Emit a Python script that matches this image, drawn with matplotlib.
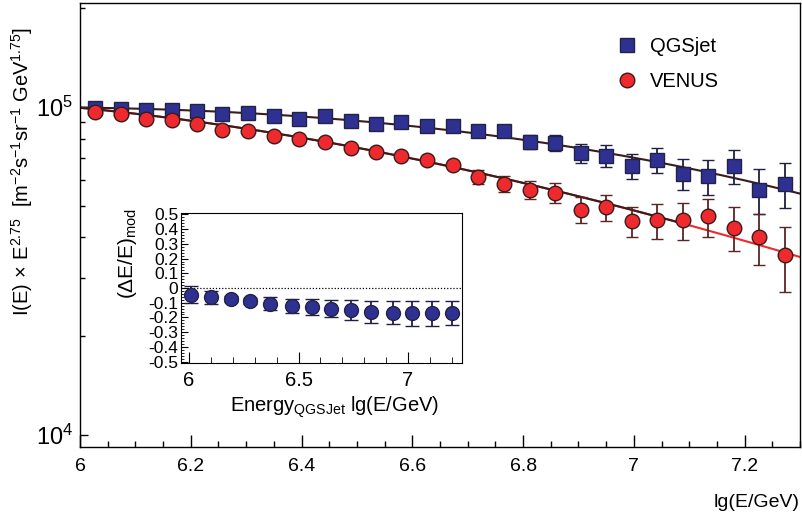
import numpy as np
import matplotlib
matplotlib.use("Agg")
import matplotlib.pyplot as plt
from matplotlib.lines import Line2D
from matplotlib.ticker import MultipleLocator, FixedLocator, FixedFormatter, NullFormatter, FuncFormatter

plt.rcParams["font.family"] = ["Liberation Sans", "DejaVu Sans"]
plt.rcParams["mathtext.fontset"] = "custom"
plt.rcParams["mathtext.rm"] = "Liberation Sans"
plt.rcParams["mathtext.it"] = "Liberation Sans:italic"
plt.rcParams["axes.unicode_minus"] = False

# main spectrum, lg(E/GeV)
lgE = [6.027, 6.074, 6.120, 6.166, 6.212, 6.257, 6.304, 6.351, 6.396, 6.442,
       6.489, 6.534, 6.579, 6.626, 6.674, 6.719, 6.765, 6.812, 6.857, 6.904,
       6.949, 6.996, 7.042, 7.088, 7.134, 7.181, 7.226, 7.273]

qgsjet = [99100, 98400, 97430, 97430, 97230, 95210, 95670, 93410, 91930, 93410,
          90200, 88750, 89820, 87090, 87520, 84070, 84480, 78080, 77530, 72270,
          70920, 66080, 68930, 62470, 61310, 65770, 55840, 58250]
qgsjet_err = [500, 550, 600, 650, 700, 800, 900, 1000, 1100, 1200,
              1400, 1600, 1800, 2000, 2300, 2700, 3200, 3800, 4300, 4800,
              5500, 5800, 6100, 6600, 7300, 7800, 8600, 9200]

venus = [96200, 95200, 91730, 91270, 88550, 85100, 84490, 81200, 79690, 77800,
         74800, 72700, 70900, 68930, 66540, 61050, 58250, 55840, 54550, 48530,
         49450, 44920, 45020, 45020, 46290, 42850, 39950, 35210]
venus_err = [500, 550, 600, 650, 700, 750, 800, 900, 1000, 1100,
             1200, 1300, 1500, 1700, 2000, 3000, 3300, 3500, 3800, 4400,
             4500, 4700, 5400, 5700, 6200, 6600, 7000, 7900]

# fit curves
fit_x = [6.0, 6.27, 6.55, 6.82, 7.03, 7.3]
fit_qgsjet = [99790, 95000, 90000, 78800, 67640, 54550]
fit_venus = [99650, 86100, 73080, 57850, 46290, 34970]

# inset: energy shift
inset_x = [6.01, 6.10, 6.19, 6.28, 6.37, 6.47, 6.56, 6.65, 6.74, 6.83, 6.93, 7.02, 7.11, 7.20]
inset_y = [-0.047, -0.062, -0.073, -0.091, -0.107, -0.122, -0.129, -0.140, -0.151, -0.162,
           -0.167, -0.173, -0.173, -0.169]
inset_err = [0.058, 0.044, 0.02, 0.02, 0.044, 0.048, 0.053, 0.06, 0.069, 0.075,
             0.08, 0.084, 0.084, 0.08]

blue = "#2e3192"
red = "#ee2a2e"
dark = "#3a1c1c"

fig = plt.figure(figsize=(8.03, 5.13), dpi=100)
ax = fig.add_axes([0.0996, 0.1287, 0.8967, 0.8655])

xs = np.linspace(6.0, 7.3, 300)
cq = np.polyfit(fit_x, np.log10(fit_qgsjet), 3)
cv = np.polyfit(fit_x, np.log10(fit_venus), 3)
ax.plot(xs, 10 ** np.polyval(cv, xs), color=red, lw=1.5, zorder=2)
xd = xs[xs <= 7.09]
ax.plot(xd, 10 ** np.polyval(cv, xd), color=dark, lw=1.5, zorder=2)
ax.plot(xs, 10 ** np.polyval(cq, xs), color=dark, lw=1.5, zorder=2)

ax.errorbar(lgE, qgsjet, yerr=qgsjet_err, fmt="s", color=blue, mec="#222244",
            mew=1.0, ms=10, ecolor="#1f1f45", elinewidth=1.3, capsize=4.3,
            capthick=1.3, zorder=3)
ax.errorbar(lgE, venus, yerr=venus_err, fmt="o", color=red, mec="#3a1a1a",
            mew=1.0, ms=10.5, ecolor="#5a2424", elinewidth=1.3, capsize=4.3,
            capthick=1.3, zorder=3)

ax.set_yscale("log")
ax.set_xlim(6.0, 7.3)
ax.set_ylim(9190, 2.07e5)
ax.set_xticks([6.0, 6.2, 6.4, 6.6, 6.8, 7.0, 7.2])
ax.set_xticklabels(["6", "6.2", "6.4", "6.6", "6.8", "7", "7.2"])
ax.xaxis.set_minor_locator(MultipleLocator(0.05))
ax.yaxis.set_major_locator(FixedLocator([1e4, 1e5]))
ax.yaxis.set_major_formatter(FixedFormatter([r"$10^{4}$", r"$10^{5}$"]))
ax.yaxis.set_minor_locator(FixedLocator([k * 1e4 for k in range(2, 10)] + [2e5]))
ax.yaxis.set_minor_formatter(NullFormatter())
ax.tick_params(axis="both", which="both", direction="in", top=False, right=False, width=1.0)
ax.tick_params(axis="x", which="major", length=8.5, pad=8, labelsize=14)
ax.tick_params(axis="x", which="minor", length=4.3)
ax.tick_params(axis="y", which="major", length=6, pad=5, labelsize=17)
ax.tick_params(axis="y", which="minor", length=3.5)
for s in ax.spines.values():
    s.set_linewidth(1.0)

ax.set_ylabel(r"I(E)$\,\times\,$E$^{2.75}$  [m$^{-2}$s$^{-1}$sr$^{-1}$ GeV$^{1.75}$]", fontsize=14.5)
ax.yaxis.set_label_coords(-0.062, 0.62)
ax.set_xlabel("lg(E/GeV)", fontsize=14, ha="right")
ax.xaxis.set_label_coords(1.0, -0.105)

handles = [
    Line2D([], [], ls="none", marker="s", color=blue, mec="#222244", mew=1.0, ms=10),
    Line2D([], [], ls="none", marker="o", color=red, mec="#3a1a1a", mew=1.0, ms=10.5),
]
ax.legend(handles, ["QGSjet", "VENUS"], loc="upper left",
          bbox_to_anchor=(618 / 803, 1 - 37 / 513),
          bbox_transform=fig.transFigure, frameon=False, fontsize=14.5,
          numpoints=1, handlelength=0.9, handletextpad=0.7,
          labelspacing=0.78, borderpad=0, borderaxespad=0)

# inset
ins = fig.add_axes([181 / 803, 1 - 363 / 513, 281 / 803, 150 / 513])
ins.axhline(0, color="black", lw=0.9, ls=(0, (1, 1.5)), zorder=1)
ins.errorbar(inset_x, inset_y, yerr=inset_err, fmt="o", color=blue, mec="#222244",
             mew=1.0, ms=10, ecolor="#1f1f45", elinewidth=1.3, capsize=5,
             capthick=1.3, zorder=3)
ins.set_xlim(5.963, 7.247)
ins.set_ylim(-0.51, 0.51)
ins.xaxis.set_major_locator(FixedLocator([6.0, 6.5, 7.0]))
ins.xaxis.set_major_formatter(FixedFormatter(["6", "6.5", "7"]))
ins.xaxis.set_minor_locator(MultipleLocator(0.1))
ins.yaxis.set_major_locator(MultipleLocator(0.1))
ins.yaxis.set_minor_locator(MultipleLocator(0.02))
ins.yaxis.set_major_formatter(FuncFormatter(lambda v, p: "0" if abs(v) < 1e-9 else "%.1f" % v))
ins.tick_params(axis="both", which="both", direction="in", top=False, right=False)
ins.tick_params(axis="x", which="major", length=8, labelsize=14.5, pad=6)
ins.tick_params(axis="x", which="minor", length=4)
ins.tick_params(axis="y", which="major", length=5, labelsize=12.5, pad=2)
ins.tick_params(axis="y", which="minor", length=2.5)
ins.set_xlabel(r"Energy$_{\mathrm{QGSJet}}$ lg(E/GeV)", fontsize=14.5)
ins.xaxis.set_label_coords(0.548, -0.21)
ins.set_ylabel(r"($\Delta$E/E)$_{\mathrm{mod}}$", fontsize=15)
ins.yaxis.set_label_coords(-0.15, 0.73)

fig.savefig("out.png", dpi=100)
